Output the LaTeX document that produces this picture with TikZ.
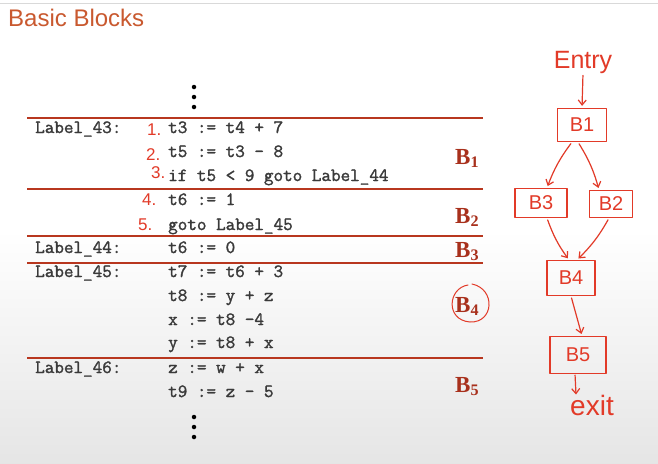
\documentclass[tikz,border=0pt]{standalone}
\usepackage{fontspec}
\setmainfont{Liberation Serif}
\newfontfamily\codefont[FakeBold=1.6]{Latin Modern Mono}
\newfontfamily\slidesans{Liberation Sans}
\usetikzlibrary{arrows.meta,shapes.geometric}
\definecolor{titleorange}{HTML}{C9592F}
\definecolor{rulered}{HTML}{B8371F}
\definecolor{blockred}{HTML}{A8301C}
\definecolor{penred}{HTML}{E23A28}
\definecolor{codegray}{HTML}{3A3A3A}
\tikzset{
  code/.style={anchor=base west, inner sep=0pt, font=\codefont\fontsize{18.6}{18}\selectfont, text=codegray},
  blocktag/.style={anchor=base west, inner sep=0pt, font=\bfseries\fontsize{23}{23}\selectfont, text=blockred},
  sep/.style={draw=rulered, line width=2.4pt},
  pen/.style={draw=penred, line width=1.2pt, line cap=round, line join=round},
  pentext/.style={text=penred, font=\slidesans\fontsize{17}{17}\selectfont, inner sep=0pt},
  numtag/.style={anchor=base west, inner sep=0pt, text=penred, font=\slidesans\fontsize{17}{17}\selectfont},
  cfgbox/.style={pen, rectangle, inner sep=0pt, text=penred, font=\slidesans\fontsize{20}{20}\selectfont},
  flow/.style={pen, -{Straight Barb[length=5pt,width=8pt]}, shorten >=2pt, shorten <=2pt},
  dot/.style={circle, fill=black, inner sep=0pt, minimum size=4.5pt}
}
\begin{document}
\begin{tikzpicture}[x=1pt,y=-1pt]
\useasboundingbox (0,0) rectangle (658,463);
% backdrop: white page fading to light grey towards the bottom
\fill[white] (0,0) rectangle (658,463);
\shade[top color=white, bottom color=black!10] (0,230) rectangle (658,463);
\draw[black!15, line width=1pt] (0,3) -- (658,3);

% title
\node[anchor=base west, inner sep=0pt, text=titleorange, font=\slidesans\fontsize{24}{24}\selectfont] (title) at (8,26) {Basic Blocks};

% continuation dots above the code
\node[dot] (d1) at (194,87) {};
\node[dot] (d2) at (194,97) {};
\node[dot] (d3) at (194,107) {};

% block separators
\draw[sep] (27,118) -- (483,118);
\draw[sep] (27,189) -- (483,189);
\draw[sep] (27,236) -- (483,236);
\draw[sep] (27,263) -- (483,263);
\draw[sep] (27,358) -- (483,358);

% B1
\node[code] (l43) at (35,133) {Label\_43:};
\node[code] (s1) at (168,133) {t3 := t4 + 7};
\node[code] (s2) at (168,157) {t5 := t3 - 8};
\node[code] (s3) at (168,181) {if t5 < 9 goto Label\_44};
% B2
\node[code] (s4) at (168,205) {t6 := 1};
\node[code] (s5) at (168,230) {goto Label\_45};
% B3
\node[code] (l44) at (35,253) {Label\_44:};
\node[code] (s6) at (168,253) {t6 := 0};
% B4
\node[code] (l45) at (35,277) {Label\_45:};
\node[code] (s7) at (168,277) {t7 := t6 + 3};
\node[code] (s8) at (168,301) {t8 := y + z};
\node[code] (s9) at (168,325) {x := t8 -4};
\node[code] (s10) at (168,348) {y := t8 + x};
% B5
\node[code] (l46) at (35,373) {Label\_46:};
\node[code] (s11) at (168,373) {z := w + x};
\node[code] (s12) at (168,397) {t9 := z - 5};

% continuation dots below the code
\node[dot] (e1) at (194,417) {};
\node[dot] (e2) at (194,427) {};
\node[dot] (e3) at (194,437) {};

% block names
\node[blocktag] (tb1) at (455,164) {B\textsubscript{1}};
\node[blocktag] (tb2) at (455,223) {B\textsubscript{2}};
\node[blocktag] (tb3) at (455,257) {B\textsubscript{3}};
\node[blocktag] (tb4) at (455,312) {B\textsubscript{4}};
\node[blocktag] (tb5) at (455,392) {B\textsubscript{5}};
\draw[pen, line width=1pt] (468,285) .. controls (448,288) and (445,320) .. (470,322)
  .. controls (494,323) and (496,289) .. (472,284);

% handwritten statement numbers
\node[numtag] (n1) at (147,135) {1.};
\node[numtag] (n2) at (146,160) {2.};
\node[numtag] (n3) at (151,178) {3.};
\node[numtag] (n4) at (142,205) {4.};
\node[numtag] (n5) at (138,230) {5.};

% flow graph
\node[pentext, font=\slidesans\fontsize{25}{25}\selectfont] (entry) at (583,62) {Entry};
\node[cfgbox, minimum width=49pt, minimum height=33pt] (b1) at (582,125) {B1};
\node[cfgbox, minimum width=52pt, minimum height=29pt] (b3) at (541,203) {B3};
\node[cfgbox, minimum width=43pt, minimum height=27pt] (b2) at (611,204) {B2};
\node[cfgbox, minimum width=48pt, minimum height=35pt] (b4) at (571,278) {B4};
\node[cfgbox, minimum width=56pt, minimum height=37pt] (b5) at (578,355) {B5};
\node[pentext, font=\slidesans\fontsize{28}{28}\selectfont] (exit) at (592,405) {exit};

\draw[flow] (entry.south) -- (b1.north);
\draw[flow] ([xshift=-10pt]b1.south) to[bend right=8] ([xshift=6pt]b3.north);
\draw[flow] ([xshift=-4pt]b1.south) to[bend left=8] ([xshift=-12pt]b2.north);
\draw[flow] ([xshift=6pt]b3.south) to[bend right=8] ([xshift=-2pt]b4.north);
\draw[flow] ([xshift=-2pt]b2.south) to[bend left=8] ([xshift=6pt]b4.north);
\draw[flow] (b4.south) -- ([xshift=4pt]b5.north);
\draw[flow, shorten <=1pt, shorten >=0pt] ([xshift=-3pt]b5.south) -- ([xshift=-16pt]exit.north);
\end{tikzpicture}
\end{document}
